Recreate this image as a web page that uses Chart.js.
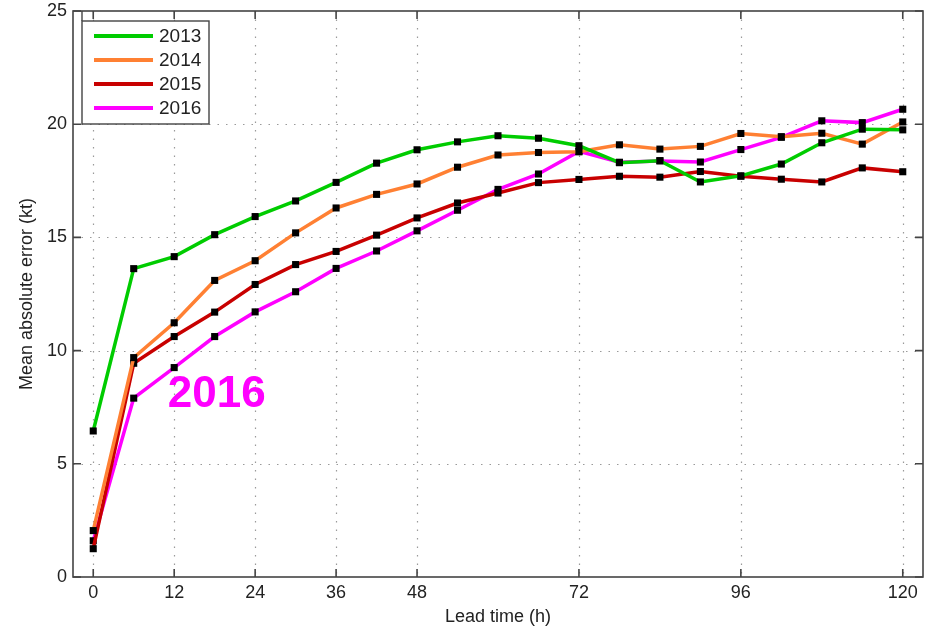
<!DOCTYPE html>
<html>
<head>
<meta charset="utf-8">
<script src="https://cdn.jsdelivr.net/npm/chart.js@4.4.1/dist/chart.umd.min.js"></script>
<style>
  html, body { margin: 0; padding: 0; background: #fff; }
  #wrap { position: relative; width: 932px; height: 630px; }
</style>
</head>
<body>
<div id="wrap"><canvas id="maeChart"></canvas></div>
<script>
// lead times (h) and mean absolute error (kt) per season
const leadTimes = [0, 6, 12, 18, 24, 30, 36, 42, 48, 54, 60, 66, 72, 78, 84, 90, 96, 102, 108, 114, 120];
const mae2013 = [6.45, 13.62, 14.15, 15.12, 15.92, 16.61, 17.43, 18.28, 18.87, 19.22, 19.49, 19.38, 19.05, 18.3, 18.39, 17.45, 17.72, 18.24, 19.18, 19.78, 19.75];
const mae2014 = [2.05, 9.69, 11.23, 13.1, 13.97, 15.2, 16.3, 16.9, 17.36, 18.1, 18.64, 18.75, 18.78, 19.09, 18.9, 19.02, 19.59, 19.45, 19.6, 19.12, 20.1];
const mae2015 = [1.25, 9.44, 10.62, 11.7, 12.92, 13.8, 14.38, 15.1, 15.86, 16.52, 16.96, 17.42, 17.56, 17.7, 17.66, 17.91, 17.7, 17.57, 17.45, 18.07, 17.9];
const mae2016 = [1.6, 7.9, 9.25, 10.62, 11.71, 12.6, 13.63, 14.4, 15.29, 16.2, 17.12, 17.8, 18.8, 18.32, 18.38, 18.33, 18.88, 19.42, 20.15, 20.07, 20.66];
const seasons = ['2013', '2014', '2015', '2016'];
const xTickValues = [0, 12, 24, 36, 48, 72, 96, 120];
const yTickValues = [0, 5, 10, 15, 20, 25];
const noteLabel = '2016';
const notePos = { x: 18.3, y: 7.5 };

const FONT = "'Liberation Sans', Arial, sans-serif";
const TEXT = '#222';

const toPoints = vals => vals.map((v, i) => ({ x: leadTimes[i], y: v }));

function series(label, data, color) {
    return {
        label: label,
        data: toPoints(data),
        borderColor: color,
        backgroundColor: color,
        borderWidth: 3.5,
        pointStyle: 'rect',
        pointRadius: 5,
        pointBorderWidth: 0,
        pointBackgroundColor: '#000',
        pointHoverRadius: 5,
        tension: 0
    };
}

// matlab style frame: dotted grid, boxed axes with inward ticks
const framePlugin = {
    id: 'frame',
    beforeDatasetsDraw(chart) {
        const { ctx, chartArea: a, scales: { x, y } } = chart;
        ctx.save();
        ctx.strokeStyle = '#9a9a9a';
        ctx.lineWidth = 1.2;
        ctx.setLineDash([1.5, 7]);
        xTickValues.forEach(v => {
            const px = Math.round(x.getPixelForValue(v)) + 0.5;
            ctx.beginPath(); ctx.moveTo(px, a.top); ctx.lineTo(px, a.bottom); ctx.stroke();
        });
        yTickValues.slice(1, -1).forEach(v => {
            const py = Math.round(y.getPixelForValue(v)) + 0.5;
            ctx.beginPath(); ctx.moveTo(a.left, py); ctx.lineTo(a.right, py); ctx.stroke();
        });
        ctx.restore();
    },
    afterDatasetsDraw(chart) {
        const { ctx, chartArea: a, scales: { x, y } } = chart;
        ctx.save();
        ctx.setLineDash([]);
        ctx.strokeStyle = '#444';
        ctx.lineWidth = 1.6;
        ctx.strokeRect(a.left, a.top, a.right - a.left, a.bottom - a.top);
        const tl = 8;
        ctx.beginPath();
        xTickValues.forEach(v => {
            const px = x.getPixelForValue(v);
            ctx.moveTo(px, a.bottom); ctx.lineTo(px, a.bottom - tl);
            ctx.moveTo(px, a.top); ctx.lineTo(px, a.top + tl);
        });
        yTickValues.forEach(v => {
            const py = y.getPixelForValue(v);
            ctx.moveTo(a.left, py); ctx.lineTo(a.left + tl, py);
            ctx.moveTo(a.right, py); ctx.lineTo(a.right - tl, py);
        });
        ctx.stroke();

        // legend box
        const lx = a.left + 9, ly = a.top + 10, lw = 127, lh = 103;
        ctx.fillStyle = '#fff';
        ctx.fillRect(lx, ly, lw, lh);
        ctx.strokeStyle = '#444';
        ctx.lineWidth = 1.4;
        ctx.strokeRect(lx, ly, lw, lh);
        ctx.beginPath(); ctx.moveTo(lx, a.top); ctx.lineTo(lx, ly); ctx.stroke();
        ctx.font = '19px ' + FONT;
        ctx.textBaseline = 'middle';
        ctx.textAlign = 'left';
        chart.data.datasets.forEach((ds, i) => {
            const cy = ly + 15 + i * 24;
            ctx.strokeStyle = ds.borderColor;
            ctx.lineWidth = 4;
            ctx.beginPath(); ctx.moveTo(lx + 12, cy); ctx.lineTo(lx + 71, cy); ctx.stroke();
            ctx.fillStyle = TEXT;
            ctx.fillText(ds.label, lx + 77, cy + 1);
        });

        // big season note
        ctx.fillStyle = '#ff00ff';
        ctx.font = 'bold 44px ' + FONT;
        ctx.textAlign = 'center';
        ctx.textBaseline = 'alphabetic';
        ctx.fillText(noteLabel, x.getPixelForValue(notePos.x), y.getPixelForValue(notePos.y));
        ctx.restore();
    }
};

function noPad(s) {
    s.paddingTop = 0;
    s.paddingBottom = 0;
    s.paddingLeft = 0;
    s.paddingRight = 0;
}

const ctx = document.getElementById('maeChart').getContext('2d');
const maeChart = new Chart(ctx, {
    type: 'line',
    data: {
        datasets: [
            series(seasons[0], mae2013, '#00cc00'),
            series(seasons[1], mae2014, '#ff8033'),
            series(seasons[2], mae2015, '#c80000'),
            series(seasons[3], mae2016, '#ff00ff')
        ]
    },
    options: {
        responsive: true,
        maintainAspectRatio: false,
        animation: false,
        events: [],
        layout: { padding: { top: 11, right: 9, left: 0, bottom: 0 } },
        plugins: {
            legend: { display: false },
            tooltip: { enabled: false }
        },
        scales: {
            x: {
                type: 'linear',
                min: -3,
                max: 123,
                grid: { display: false, drawTicks: false, tickLength: 0 },
                border: { display: false },
                afterBuildTicks: s => { s.ticks = xTickValues.map(v => ({ value: v })); },
                afterFit: s => { s.height = 53; noPad(s); },
                ticks: {
                    autoSkip: false,
                    maxRotation: 0,
                    padding: 5,
                    color: TEXT,
                    font: { family: FONT, size: 18 }
                },
                title: {
                    display: true,
                    text: 'Lead time (h)',
                    color: TEXT,
                    font: { family: FONT, size: 18 },
                    padding: { top: 0, bottom: 2 }
                }
            },
            y: {
                min: 0,
                max: 25,
                grid: { display: false, drawTicks: false, tickLength: 0 },
                border: { display: false },
                afterBuildTicks: s => { s.ticks = yTickValues.map(v => ({ value: v })); },
                afterFit: s => { s.width = 73; noPad(s); },
                ticks: {
                    padding: 6,
                    color: TEXT,
                    font: { family: FONT, size: 18 }
                },
                title: {
                    display: true,
                    text: 'Mean absolute error (kt)',
                    color: TEXT,
                    font: { family: FONT, size: 18 },
                    padding: { top: 16, bottom: 0 }
                }
            }
        }
    },
    plugins: [framePlugin]
});
</script>
</body>
</html>
